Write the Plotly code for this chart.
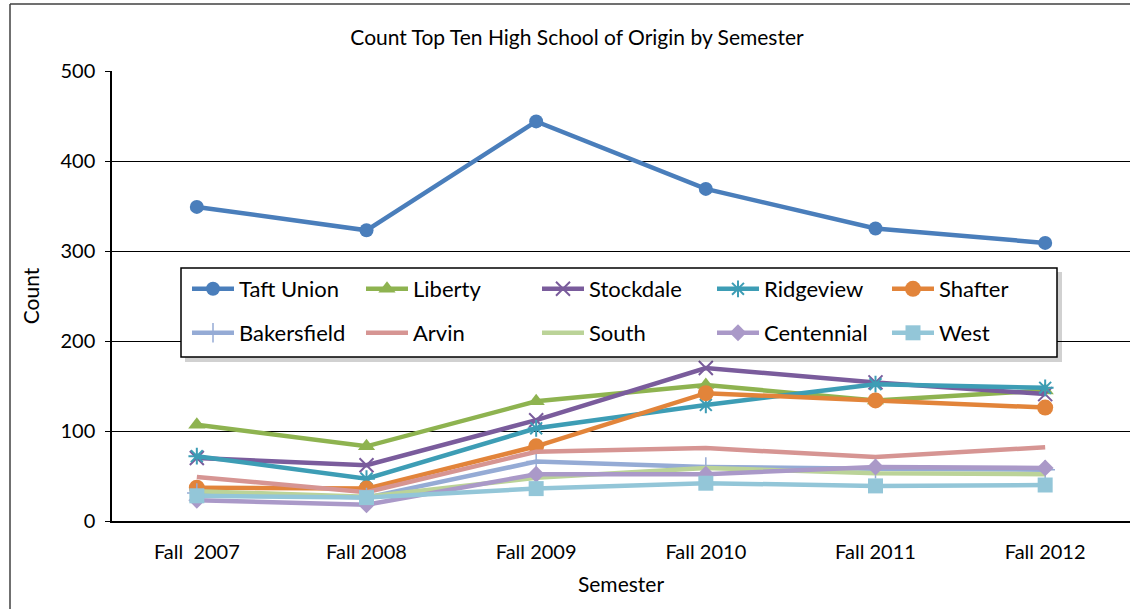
import plotly.graph_objects as go

semesters = ["Fall\u00a0 2007", "Fall 2008", "Fall 2009", "Fall 2010", "Fall 2011", "Fall 2012"]

taft_union = [349, 323, 444, 369, 325, 309]
liberty = [107, 83, 133, 151, 134, 145]
stockdale = [70, 62, 112, 170, 154, 141]
ridgeview = [72, 47, 103, 129, 152, 148]
shafter = [37, 36, 83, 142, 134, 126]
bakersfield = [31, 26, 66, 60, 58, 57]
arvin = [49, 32, 77, 81, 71, 82]
south = [33, 27, 48, 59, 53, 52]
centennial = [23, 18, 52, 52, 60, 59]
west = [28, 26, 36, 42, 39, 40]

FONT = "Lato"

series = [
    ("Taft Union", taft_union, "#4A7EBB", dict(symbol="circle", size=14)),
    ("Liberty", liberty, "#8EB350", dict(symbol="triangle-up", size=15)),
    ("Stockdale", stockdale, "#7A5C9C", dict(symbol="x-thin-open", size=14, line=dict(width=2, color="#7A5C9C"))),
    ("Ridgeview", ridgeview, "#3D9DB5", dict(symbol="asterisk-open", size=14, line=dict(width=2, color="#3D9DB5"))),
    ("Shafter", shafter, "#E2843A", dict(symbol="circle", size=16)),
    ("Bakersfield", bakersfield, "#95ABD5", dict(symbol="cross-thin-open", size=14, line=dict(width=1.5, color="#95ABD5"))),
    ("Arvin", arvin, "#D69593", None),
    ("South", south, "#BBD398", None),
    ("Centennial", centennial, "#AA99C8", dict(symbol="diamond", size=13)),
    ("West", west, "#93C6D8", dict(symbol="square", size=15)),
]

W, H = 1130, 609
L, R, T, B = 112, 0, 71, 88
pw, ph = W - L - R, H - T - B

def px(x):
    return (x - L) / pw

def py(y):
    return (H - B - y) / ph

legend_cols = [187, 361, 537, 712, 887]
legend_rows = [289, 333]

fig = go.Figure()
legend_layout = {}
for i, (name, vals, color, mk) in enumerate(series):
    kw = {}
    if mk is not None:
        m = dict(color=color)
        m.update(mk)
        kw["marker"] = m
        mode = "lines+markers"
    else:
        mode = "lines"
    lg = "legend" if i == 0 else f"legend{i + 1}"
    fig.add_trace(go.Scatter(
        x=semesters, y=vals, name=name, mode=mode,
        line=dict(color=color, width=4.5), legend=lg, **kw))
    legend_layout[lg] = dict(
        x=px(legend_cols[i % 5]), y=py(legend_rows[i // 5]),
        orientation="h", xanchor="left", yanchor="middle", bgcolor="rgba(0,0,0,0)",
        borderwidth=0, itemwidth=42,
        font=dict(family=FONT, size=22, color="black"))

shapes = [
    # outer chart border (left and top edges)
    dict(type="line", xref="paper", yref="paper", x0=px(10), x1=px(10), y0=py(609), y1=py(4),
         line=dict(color="#404040", width=1.5), layer="above"),
    dict(type="line", xref="paper", yref="paper", x0=px(10), x1=px(1130), y0=py(4), y1=py(4),
         line=dict(color="#404040", width=1.5), layer="above"),
    # legend shadow
    dict(type="rect", xref="paper", yref="paper", x0=px(185), x1=px(1062), y0=py(362), y1=py(272),
         line=dict(width=0), fillcolor="rgba(0,0,0,0.18)", layer="above"),
    # legend box
    dict(type="rect", xref="paper", yref="paper", x0=px(181), x1=px(1057), y0=py(357), y1=py(268),
         line=dict(color="black", width=1.5), fillcolor="white", layer="above"),
]

fig.update_layout(
    width=W, height=H,
    margin=dict(l=L, r=R, t=T, b=B, pad=0, autoexpand=False),
    paper_bgcolor="white", plot_bgcolor="white",
    font=dict(family=FONT, color="black"),
    title=dict(text="Count Top Ten High School of Origin by Semester", x=577 / W, xanchor="center",
               y=1 - 38 / H, yanchor="middle", font=dict(family=FONT, size=21, color="black")),
    showlegend=True,
    shapes=shapes,
    xaxis=dict(showgrid=False, showline=True, linecolor="black", linewidth=1.5, ticks="",
               tickfont=dict(family=FONT, size=20, color="black"), ticklabelstandoff=12,
               title=dict(text="Semester", font=dict(family=FONT, size=21, color="black"), standoff=16),
               range=[-0.5, 5.5], automargin=False),
    yaxis=dict(range=[0, 500], dtick=100, showgrid=True, gridcolor="black", gridwidth=1,
               showline=True, linecolor="black", linewidth=1.5, ticks="outside", ticklen=5,
               tickcolor="black", tickfont=dict(family=FONT, size=20, color="black"),
               ticklabelstandoff=6,
               title=dict(text="Count", font=dict(family=FONT, size=21, color="black"), standoff=15),
               zeroline=False, automargin=False),
    **legend_layout,
)

fig.write_html("out.html", config={"displayModeBar": False},
               post_script="document.body.style.margin='0';document.body.style.overflow='hidden';")
